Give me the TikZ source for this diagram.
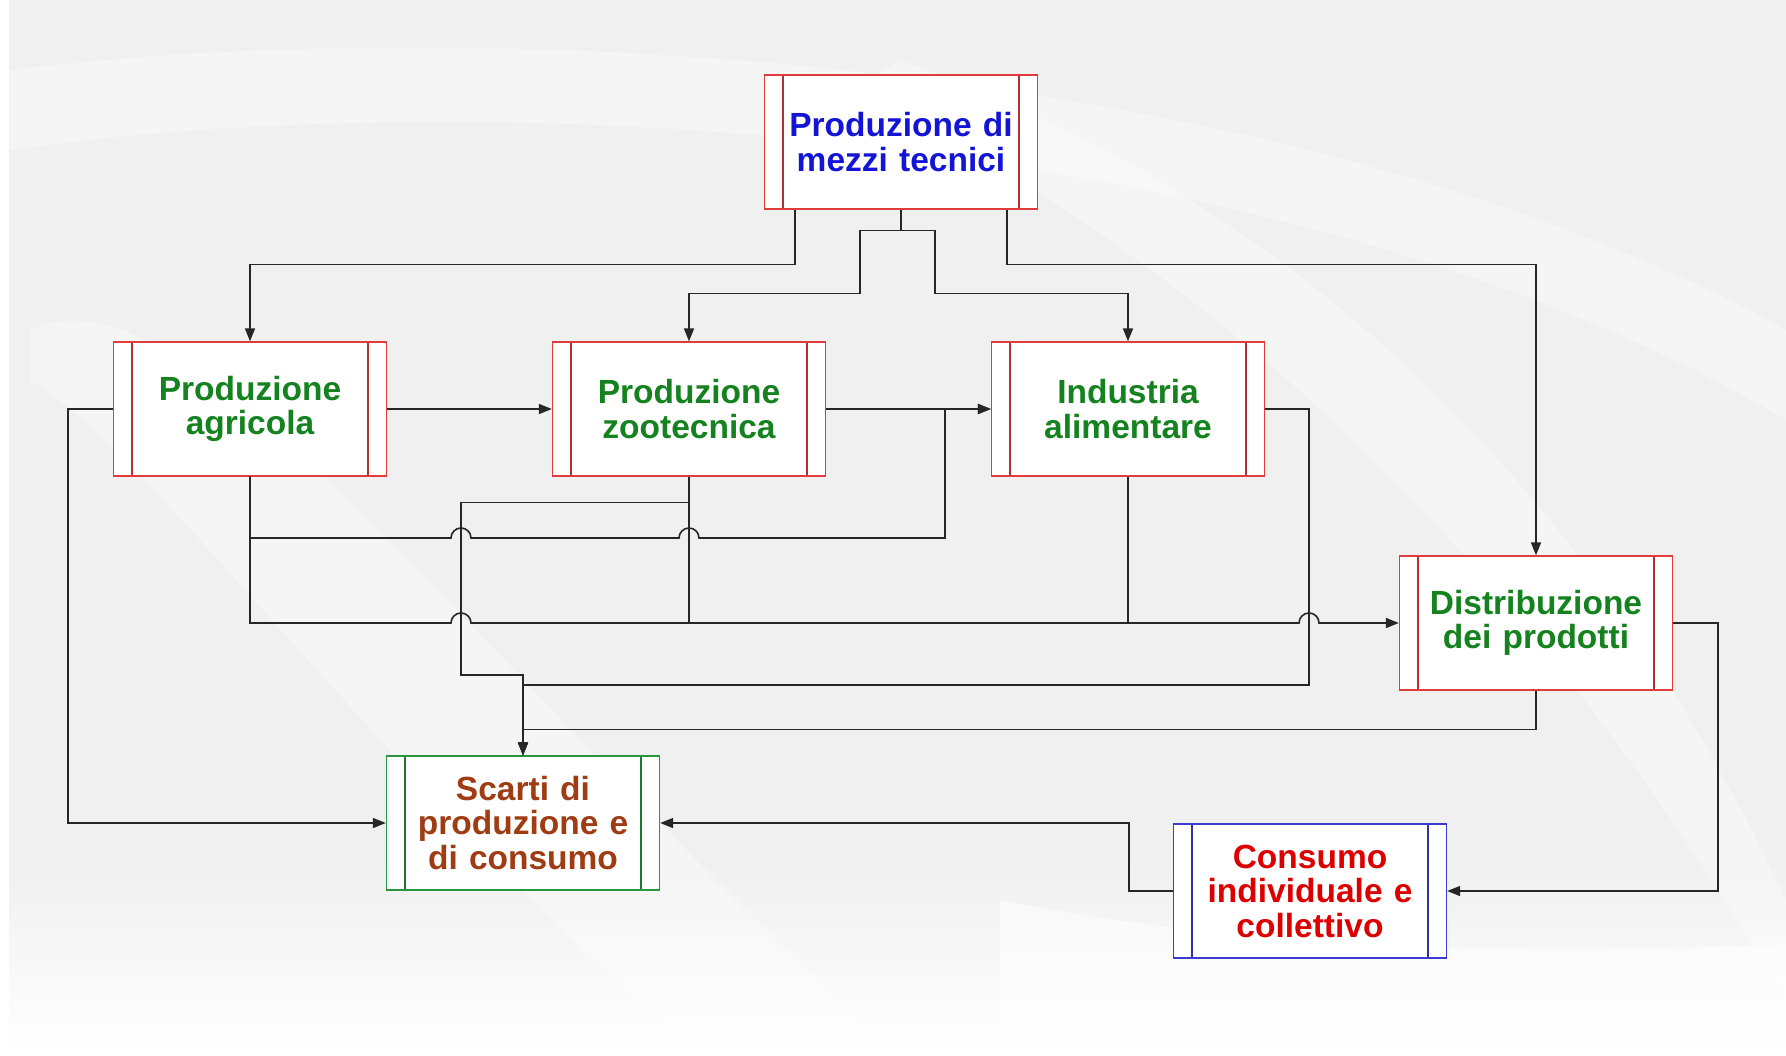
\documentclass[tikz,border=0pt]{standalone}
\usepackage{fontspec}
\setmainfont{Liberation Sans}
\usetikzlibrary{arrows.meta}

\definecolor{boxred}{RGB}{225,60,60}
\definecolor{boxgreen}{RGB}{40,150,60}
\definecolor{boxblue}{RGB}{60,60,210}
\definecolor{txtblue}{RGB}{20,20,215}
\definecolor{txtgreen}{RGB}{20,130,30}
\definecolor{txtbrown}{RGB}{160,60,20}
\definecolor{txtred}{RGB}{220,0,0}

\tikzset{
  box/.style 2 args={draw=#1, line width=1.3pt, fill=white,
    minimum width=273pt, minimum height=134pt, text width=260pt,
    align=center, inner sep=0pt, text=#2,
    font=\fontsize{33.5}{34.5}\selectfont\bfseries,
    path picture={\draw[#1!80!black, line width=1.3pt]
      ([xshift=18.5pt]path picture bounding box.north west) -- ([xshift=18.5pt]path picture bounding box.south west)
      ([xshift=-18.5pt]path picture bounding box.north east) -- ([xshift=-18.5pt]path picture bounding box.south east);}},
  wire/.style={draw=black!85, line width=1.6pt},
  link/.style={wire, -{Triangle[length=13pt,width=10pt]}},
}

\begin{document}
\begin{tikzpicture}[x=1pt, y=-1pt]
  % Background
  \useasboundingbox (0,0) rectangle (1786,1055);
  \fill[black!6] (0,0) rectangle (1786,1055);
  \shade[top color=black!6, bottom color=white] (0,860) rectangle (1786,1055);
  \fill[white, opacity=0.35] (10,70) .. controls (500,10) and (1300,60) .. (1786,330) -- (1786,420) .. controls (1300,130) and (500,80) .. (10,150) -- cycle;
  \fill[white, opacity=0.35] (30,330) .. controls (200,250) and (500,700) .. (900,1055) -- (700,1055) .. controls (400,800) and (150,450) .. (30,380) -- cycle;
  \fill[white, opacity=0.35] (900,60) .. controls (1300,200) and (1600,500) .. (1786,900) -- (1786,1000) .. controls (1550,600) and (1250,280) .. (850,90) -- cycle;
  \fill[white, opacity=0.5] (1000,900) .. controls (1300,960) and (1600,950) .. (1786,945) -- (1786,1055) -- (1000,1055) -- cycle;
  \fill[white] (0,0) rectangle (9,1055);

  % Boxes
  \node[box={boxred}{txtblue}] (mezzi) at (901,142) {Produzione di\\mezzi tecnici};
  \node[box={boxred}{txtgreen}] (agr) at (250,409) {Produzione\\agricola};
  \node[box={boxred}{txtgreen}] (zoo) at (689,409) {Produzione\\zootecnica};
  \node[box={boxred}{txtgreen}] (ind) at (1128,409) {Industria\\alimentare};
  \node[box={boxred}{txtgreen}] (distr) at (1536,623) {Distribuzione\\dei prodotti};
  \node[box={boxgreen}{txtbrown}] (scarti) at (523,823) {Scarti di\\produzione e\\di consumo};
  \node[box={boxblue}{txtred}] (cons) at (1310,891) {Consumo\\individuale e\\collettivo};

  % From the means of production
  \draw[link] ([xshift=-106pt]mezzi.south) -- ++(0,55) -| (agr.north);
  \draw[link] ([xshift=106pt]mezzi.south) -- ++(0,55) -| (distr.north);
  \draw[link] (mezzi.south) -- ++(0,21) coordinate (fork) -- ++(-41,0) -- ++(0,63) -| (zoo.north);
  \draw[link] (fork) -- ++(34,0) -- ++(0,63) -| (ind.north);

  % Production chain
  \draw[link] (agr.east) -- (zoo.west);
  \draw[link] (zoo.east) -- (ind.west);
  \draw[link] (agr.south) -- (250,538) -- (451,538) arc[start angle=180, end angle=360, radius=10]
    -- (679,538) arc[start angle=180, end angle=360, radius=10] -- (945,538) |- (ind.west);
  \draw[link] (agr.south) -- (agr.south |- distr.west) -- (451,623) arc[start angle=180, end angle=360, radius=10]
    -- (1299,623) arc[start angle=180, end angle=360, radius=10] -- (distr.west);
  \draw[wire] (zoo.south) -- (zoo.south |- distr.west);
  \draw[wire] (ind.south) -- (ind.south |- distr.west);

  % Waste
  \draw[link] ([yshift=-26pt]zoo.south) -| (461,675) -| (scarti.north);
  \draw[link] (ind.east) -| (1309,685) -| (scarti.north);
  \draw[link] (distr.south) -- ++(0,39) -| (scarti.north);
  \draw[link] (agr.west) -- ++(-45,0) |- (scarti.west);

  % Consumption
  \draw[link] (distr.east) -- ++(45,0) |- (cons.east);
  \draw[link] (cons.west) -- ++(-44,0) |- (scarti.east);
\end{tikzpicture}
\end{document}
